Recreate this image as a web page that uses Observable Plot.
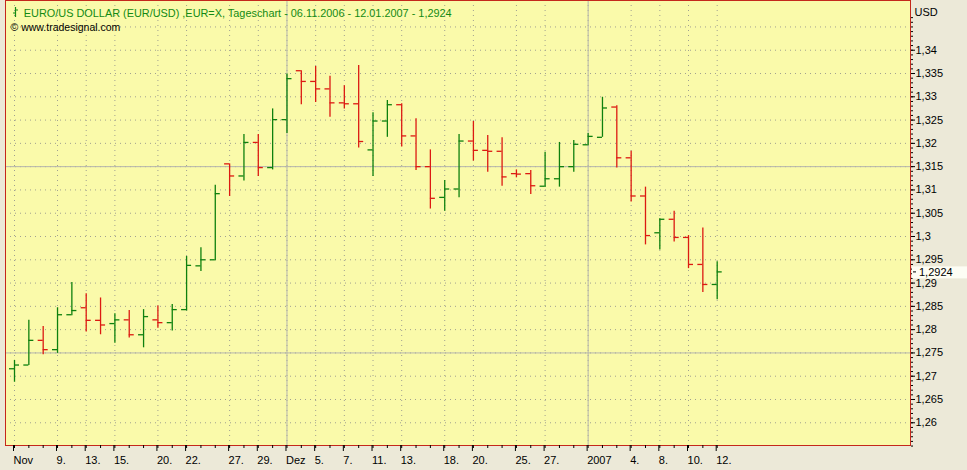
<!DOCTYPE html>
<html><head><meta charset="utf-8">
<script src="https://cdn.jsdelivr.net/npm/d3@7"></script>
<script src="https://cdn.jsdelivr.net/npm/@observablehq/plot@0.6"></script>
<style>
html,body{margin:0;padding:0;background:#ece9d8;}
#chart svg{display:block;}
</style></head><body><div id="chart"></div>
<script>
// ---- data ----
const dates = ["2006-11-06","2006-11-07","2006-11-08","2006-11-09","2006-11-10","2006-11-13","2006-11-14","2006-11-15","2006-11-16","2006-11-17",
"2006-11-20","2006-11-21","2006-11-22","2006-11-23","2006-11-24","2006-11-27","2006-11-28","2006-11-29","2006-11-30","2006-12-01",
"2006-12-04","2006-12-05","2006-12-06","2006-12-07","2006-12-08","2006-12-11","2006-12-12","2006-12-13","2006-12-14","2006-12-15",
"2006-12-18","2006-12-19","2006-12-20","2006-12-21","2006-12-22","2006-12-25","2006-12-26","2006-12-27","2006-12-28","2006-12-29",
"2007-01-01","2007-01-02","2007-01-03","2007-01-04","2007-01-05","2007-01-08","2007-01-09","2007-01-10","2007-01-11","2007-01-12"];
const open = [1.2716,1.2724,1.2777,1.2757,1.2832,1.2847,1.2820,1.2813,1.2821,1.2789,
1.2821,1.2815,1.2843,1.2937,1.2950,1.3156,1.3130,1.3202,1.3148,1.3251,
1.3356,1.3333,1.3317,1.3287,1.3285,1.3186,1.3248,1.3283,1.3216,1.3150,
1.3084,1.3102,1.3205,1.3185,1.3183,1.3135,1.3135,1.3108,1.3124,1.3150,
1.3197,1.3213,1.3278,1.3169,1.3087,1.3008,1.3037,1.2998,1.2940,1.2897];
const high = [1.2734,1.2820,1.2807,1.2847,1.2901,1.2877,1.2868,1.2834,1.2841,1.2843,
1.2851,1.2854,1.2957,1.2976,1.3110,1.3156,1.3219,1.3219,1.3274,1.3349,
1.3356,1.3365,1.3344,1.3324,1.3367,1.3266,1.3292,1.3285,1.3253,1.3186,
1.3120,1.3219,1.3247,1.3217,1.3212,1.3143,1.3142,1.3181,1.3202,1.3206,
1.3221,1.3299,1.3281,1.3183,1.3106,1.3038,1.3054,1.3002,1.3018,1.2946];
const low = [1.2687,1.2723,1.2746,1.2749,1.2830,1.2795,1.2789,1.2771,1.2782,1.2761,
1.2803,1.2797,1.2840,1.2925,1.2948,1.3086,1.3119,1.3129,1.3143,1.3221,
1.3283,1.3288,1.3256,1.3274,1.3190,1.3129,1.3213,1.3192,1.3142,1.3059,
1.3054,1.3083,1.3162,1.3138,1.3108,1.3126,1.3090,1.3105,1.3106,1.3138,
1.3195,1.3213,1.3147,1.3074,1.2982,1.2971,1.2988,1.2931,1.2880,1.2864];
const close = [1.2724,1.2777,1.2757,1.2832,1.2841,1.2820,1.2810,1.2821,1.2789,1.2828,
1.2815,1.2843,1.2938,1.2950,1.3092,1.3130,1.3202,1.3148,1.3251,1.3339,
1.3333,1.3317,1.3287,1.3285,1.3204,1.3248,1.3283,1.3216,1.3150,1.3082,
1.3102,1.3205,1.3185,1.3183,1.3128,1.3134,1.3109,1.3124,1.3150,1.3198,
1.3215,1.3276,1.3169,1.3087,1.3002,1.3037,1.2998,1.2940,1.2897,1.2924];
const xTickDates = ["2006-11-06","2006-11-09","2006-11-13","2006-11-15","2006-11-20","2006-11-22","2006-11-27","2006-11-29",
"2006-12-01","2006-12-05","2006-12-07","2006-12-11","2006-12-13","2006-12-18","2006-12-20","2006-12-25","2006-12-27",
"2007-01-01","2007-01-04","2007-01-08","2007-01-10","2007-01-12"];
const xTickLabels = ["Nov","9.","13.","15.","20.","22.","27.","29.","Dez","5.","7.","11.","13.","18.","20.","25.","27.","2007","4.","8.","10.","12."];
const yTickValues = [1.26,1.265,1.27,1.275,1.28,1.285,1.29,1.295,1.3,1.305,1.31,1.315,1.32,1.325,1.33,1.335,1.34];
const yGridValues = [1.26,1.265,1.27,1.275,1.28,1.285,1.29,1.295,1.3,1.305,1.31,1.315,1.32,1.325,1.33,1.335,1.34,1.345];
const refLevels = [1.275, 1.315];
const refDates = ["2006-12-01", "2007-01-01"];
const title = "EURO/US DOLLAR (EUR/USD) ,EUR=X, Tageschart - 06.11.2006 - 12.01.2007 - 1,2924";
const copyright = "© www.tradesignal.com";
const currency = "USD";
const lastLabel = "1,2924";

// ---- derived ----
const UP = "#0e800e", DOWN = "#dc1a12";
const bars = dates.map((d, i) => ({i, o: open[i], h: high[i], l: low[i], c: close[i], up: close[i] > open[i]}));
const idx = d => dates.indexOf(d);
const xTickIdx = xTickDates.map(idx);
const labelOf = new Map(xTickIdx.map((k, j) => [k, xTickLabels[j]]));
const fmt = v => String(+v.toFixed(3)).replace(".", ",");
const minorY = d3.range(1255, 1348).map(k => k / 1000);
const lastClose = close[close.length - 1];
const w = 0.35;

const barMarks = (sel, color) => [
  Plot.ruleX(sel, {x: "i", y1: "l", y2: "h", stroke: color, strokeWidth: 1.3}),
  Plot.ruleY(sel, {y: "o", x1: d => d.i - w, x2: "i", stroke: color, strokeWidth: 1.3}),
  Plot.ruleY(sel, {y: "c", x1: "i", x2: d => d.i + w, stroke: color, strokeWidth: 1.3})
];

const chart = Plot.plot({
  width: 967, height: 470,
  marginLeft: 5, marginRight: 57, marginTop: 0, marginBottom: 25,
  style: {background: "#ece9d8", fontFamily: "'Liberation Sans', Arial, sans-serif", fontSize: "11px", color: "#000"},
  x: {domain: [-0.628, 62.48], label: null},
  y: {domain: [1.25512, 1.35068], label: null},
  marks: [
    Plot.frame({fill: "#fafaaa"}),
    Plot.ruleY(yGridValues, {stroke: "#a0a090", strokeDasharray: "1,4"}),
    Plot.ruleX(xTickIdx, {stroke: "#a0a090", strokeDasharray: "1,4"}),
    Plot.ruleY(refLevels, {stroke: "#b4b4ac"}),
    Plot.ruleX(refDates.map(idx), {stroke: "#b4b4ac"}),
    ...barMarks(bars.filter(d => d.up), UP),
    ...barMarks(bars.filter(d => !d.up), DOWN),
    Plot.frame({stroke: "#c4281c"}),
    Plot.text([title], {frameAnchor: "top-left", dx: 18.3, dy: 13, textAnchor: "start", lineAnchor: "middle", fill: "#138a13", fontSize: 10.9}),
    Plot.text([copyright], {frameAnchor: "top-left", dx: 5, dy: 27, textAnchor: "start", lineAnchor: "middle", fill: "#000", fontSize: 10.5}),
    Plot.text([currency], {frameAnchor: "top-right", dx: 4, dy: 12, textAnchor: "start", lineAnchor: "middle", fill: "#000", fontSize: 11}),
    Plot.axisY(minorY, {anchor: "right", tickSize: 2, tickFormat: () => "", stroke: "#000", label: null}),
    Plot.axisY(yTickValues, {anchor: "right", tickSize: 4, tickPadding: 1, tickFormat: fmt, fontSize: 11, fill: "#000", stroke: "#000", label: null}),
    Plot.axisX(d3.range(dates.length), {anchor: "bottom", tickSize: 3, tickFormat: () => "", stroke: "#000", label: null}),
    Plot.axisX(xTickIdx, {anchor: "bottom", tickSize: 6, tickPadding: 5, tickFormat: d => labelOf.get(d), textAnchor: "start", dx: -1, fontSize: 11, fill: "#000", stroke: "#000", label: null})
  ]
});
document.getElementById("chart").appendChild(chart);

// last price marker and title icon
const svg = d3.select(chart);
const yl = chart.scale("y").apply(lastClose);
const xr = chart.scale("x").apply(62.48);
const g = svg.append("g").attr("text-anchor", "start");
g.append("rect").attr("x", xr + 2).attr("y", yl - 5).attr("width", 967 - xr - 2).attr("height", 12).attr("fill", "#fdfdf4");
g.append("line").attr("x1", xr + 3).attr("x2", xr + 6).attr("y1", yl + 0.5).attr("y2", yl + 0.5).attr("stroke", "#000");
g.append("text").attr("x", xr + 9).attr("y", yl + 1).attr("dy", "0.32em").attr("text-anchor", "start").attr("font-size", 11).attr("fill", "#000").text(lastLabel);
const x0 = chart.scale("x").apply(-0.628);
const ic = svg.append("g").attr("stroke", "#138a13").attr("stroke-width", 1.2).attr("fill", "none");
ic.append("path").attr("d", `M${x0 + 10.5},7V17M${x0 + 8},13H${x0 + 10.5}M${x0 + 10.5},10H${x0 + 13}`);
</script></body></html>
